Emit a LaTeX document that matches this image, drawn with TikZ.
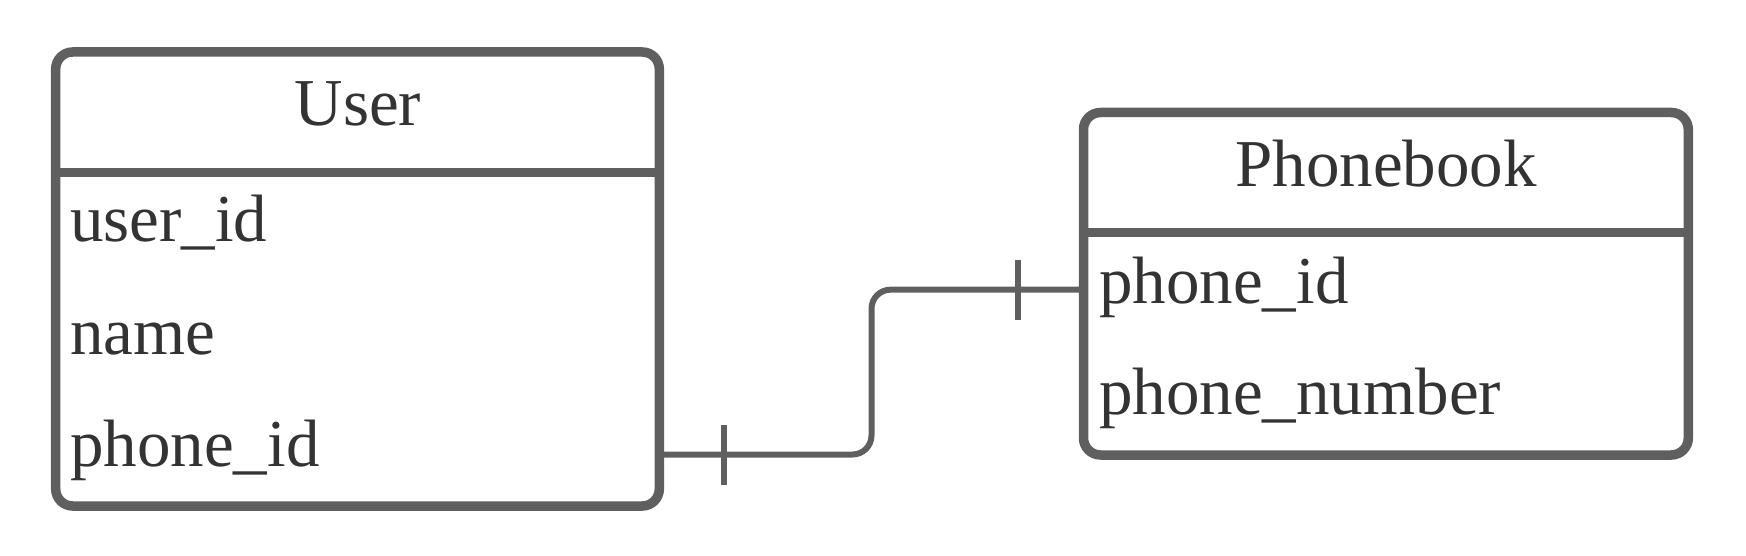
\documentclass[tikz,border=0pt]{standalone}
\usepackage{fontspec}
\setmainfont{Liberation Serif}
\definecolor{linegray}{HTML}{5F5F5F}
\definecolor{textgray}{HTML}{333333}
\tikzset{
  entity/.style={draw=linegray, line width=9.5pt, rounded corners=17pt, inner sep=0pt, outer sep=0pt, anchor=north west, fill=white},
  divider/.style={draw=linegray, line width=9pt},
  conn/.style={draw=linegray, line width=6pt},
  lbl/.style={font=\fontsize{67}{70}\selectfont, text=textgray, inner sep=0pt, anchor=base west},
  ttl/.style={font=\fontsize{67}{70}\selectfont, text=textgray, inner sep=0pt, anchor=base},
}
\begin{document}
\begin{tikzpicture}[x=1pt,y=-1pt]
\useasboundingbox (0,0) rectangle (1746,556);
% entities
\node[entity, minimum width=603.6pt, minimum height=454pt] (user) at (55.7,52) {};
\node[entity, minimum width=604.8pt, minimum height=342.5pt] (phone) at (1083.5,112.5) {};
% dividers
\coordinate (uh) at (0,172.5);
\coordinate (ph) at (0,232.5);
\draw[divider] (user.west |- uh) -- (user.east |- uh);
\draw[divider] (phone.west |- ph) -- (phone.east |- ph);
% titles
\node[ttl] (utitle) at (358,126) {User};
\node[ttl] (ptitle) at (1386,187) {Phonebook};
% rows
\node[lbl] (uid) at (70,242) {user\_id};
\node[lbl] (uname) at (70,354) {name};
\node[lbl] (uphone) at (70,466) {phone\_id};
\node[lbl] (pid) at (1099,303) {phone\_id};
\node[lbl] (pnum) at (1099,414) {phone\_number};
% connector
\coordinate (u1) at (user.east |- 0,454.5);
\coordinate (c1) at (871.5,454.5);
\coordinate (c2) at (871.5,289.7);
\coordinate (p1) at (phone.west |- 0,289.7);
\coordinate (t1) at (724,454.5);
\coordinate (t2) at (1018.3,289.7);
\draw[conn, rounded corners=19pt] (u1) -- (c1) -- (c2) -- (p1);
\draw[conn] ([yshift=-30pt]t1) -- ([yshift=30pt]t1);
\draw[conn] ([yshift=-30pt]t2) -- ([yshift=30pt]t2);
\end{tikzpicture}
\end{document}
